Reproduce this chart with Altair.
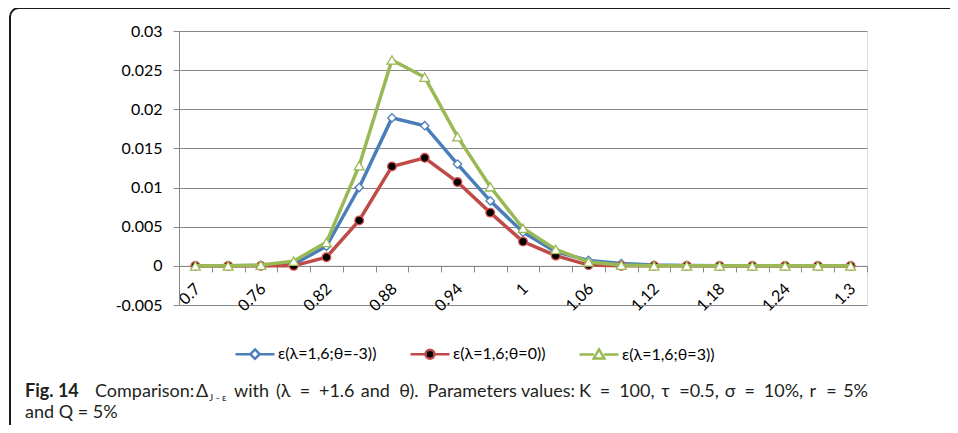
import altair as alt
import pandas as pd

# ---- data ----
x_labels = ["0.7", "0.73", "0.76", "0.79", "0.82", "0.85", "0.88", "0.91", "0.94", "0.97",
            "1", "1.03", "1.06", "1.09", "1.12", "1.15", "1.18", "1.21", "1.24", "1.27", "1.3"]
shown_labels = ["0.7", "0.76", "0.82", "0.88", "0.94", "1", "1.06", "1.12", "1.18", "1.24", "1.3"]

series_names = ["ε(λ=1,6;θ=-3))", "ε(λ=1,6;θ=0))", "ε(λ=1,6;θ=3))"]
vals_m3 = [0, 0, 0.00005, 0.0002, 0.0025, 0.0100, 0.0189, 0.0179, 0.0130, 0.0083, 0.0043,
           0.0018, 0.0007, 0.0003, 0.0001, 0.00005, 0, 0, 0, 0, 0]
vals_0 = [0, 0, 0, 0, 0.0011, 0.0058, 0.0127, 0.0138, 0.0107, 0.0068, 0.0031,
          0.0013, 0.0001, 0, 0, 0, 0, 0, 0, 0, 0]
vals_p3 = [0, 0, 0.0001, 0.0006, 0.0030, 0.0128, 0.0263, 0.0241, 0.0165, 0.0101, 0.0048,
           0.0021, 0.0005, 0.0001, 0, 0, 0, 0, 0, 0, 0]
y_ticks = [-0.005, 0, 0.005, 0.01, 0.015, 0.02, 0.025, 0.03]

caption_words = ["(λ", "=", "+1.6", "and", "θ).", "Parameters values:", "K", "=", "100,",
                 "τ", "=0.5,", "σ", "=", "10%,", "r", "=", "5%"]

# ---- styles ----
line_colors = ["#4A7EBB", "#BE4B48", "#98B954"]
marker_shapes = ["diamond", "circle", "triangle-up"]
marker_fills = ["white", "black", "white"]
marker_strokes = ["#4A7EBB", "#D9534F", "#98B954"]
marker_sizes = [70, 75, 95]
legend_paths = [
    "M-1,0L-0.24,0M0.24,0L1,0M0,-0.24L0.24,0L0,0.24L-0.24,0Z",
    "M-1,0L-0.23,0M0.23,0L1,0M-0.23,0A0.23,0.23,0,1,1,0.23,0A0.23,0.23,0,1,1,-0.23,0Z",
    "M-1,0L-0.26,0M0.26,0L1,0M0,-0.26L0.27,0.2L-0.27,0.2Z",
]

rows = []
for name, vals in zip(series_names, [vals_m3, vals_0, vals_p3]):
    for xl, v in zip(x_labels, vals):
        rows.append({"x": xl, "y": v, "series": name})
df = pd.DataFrame(rows)

FONT = "Lato"
GRID = "#878787"
W, H = 688, 274

x_axis = alt.Axis(
    title=None, orient="bottom", offset=-39.14, tickBand="extent",
    domainColor=GRID, domainWidth=1, tickColor=GRID, tickSize=6, tickWidth=1,
    labelAngle=-45, labelAlign="right", labelBaseline="middle", labelPadding=14,
    labelOffset=2, labelFont=FONT, labelFontSize=16, labelColor="#000000", labelOverlap=False,
    labelExpr="indexof(" + str(shown_labels).replace("'", '"') + ", datum.value) >= 0 ? datum.value : ''",
    grid=False,
)
y_axis = alt.Axis(
    title=None, values=y_ticks, grid=True, gridColor=GRID, gridWidth=1,
    domainColor=GRID, tickColor=GRID, tickSize=6, labelPadding=11,
    labelFont=FONT, labelFontSize=16, labelColor="#000000",
    labelExpr="toString(round(datum.value*1000)/1000)",
)

X = alt.X("x:O", scale=alt.Scale(type="band", domain=x_labels, paddingInner=0, paddingOuter=0),
          bandPosition=0.5, axis=x_axis)
Y = alt.Y("y:Q", scale=alt.Scale(domain=[-0.005, 0.03], nice=False, zero=False), axis=y_axis)

base = alt.Chart(df)
layers = []
for i, name in enumerate(series_names):
    sub = base.transform_filter(alt.datum.series == name)
    layers.append(sub.mark_line(color=line_colors[i], strokeWidth=3.5).encode(x=X, y=Y))
    layers.append(sub.mark_point(shape=marker_shapes[i], filled=True, fill=marker_fills[i],
                                 stroke=marker_strokes[i], strokeWidth=1.3, opacity=1,
                                 size=marker_sizes[i]).encode(x=X, y=Y))

legend = alt.Legend(
    title=None, orient="none", legendX=55, legendY=302, direction="horizontal",
    symbolSize=1521, symbolStrokeWidth=2.5, labelFont=FONT, labelFontSize=16,
    labelColor="#000000", labelOffset=2, columnPadding=28, padding=0,
    symbolOpacity=1, labelLimit=300,
)
legend_layer = base.transform_filter("false").mark_point(opacity=1, strokeWidth=2.5).encode(
    shape=alt.Shape("series:N", scale=alt.Scale(domain=series_names, range=legend_paths), legend=legend),
    stroke=alt.Stroke("series:N", scale=alt.Scale(domain=series_names, range=line_colors), legend=legend),
    fill=alt.Fill("series:N", scale=alt.Scale(domain=series_names, range=marker_fills), legend=legend),
)

one = alt.Data(values=[{}])
CAP_FONT = "Lato"
CAP_SIZE = 18
OX, OY = 179, 31  # plot origin on the page


def cap(text, px, py, size=CAP_SIZE, bold=False, align="left"):
    return alt.Chart(one).mark_text(
        text=text, align=align, baseline="alphabetic", font=CAP_FONT, fontSize=size,
        fontWeight="bold" if bold else "normal", color="#231F20",
    ).encode(x=alt.value(px - OX), y=alt.value(py - OY))


# approximate Lato advance widths (em) to justify the first caption line
EM = {"(": .27, ")": .27, "λ": .47, "=": .50, "+": .50, ".": .21, ",": .21, ":": .22, "%": .72,
      "a": .48, "d": .54, "e": .50, "l": .23, "m": .80, "n": .54, "r": .36, "s": .40, "t": .34,
      "u": .54, "v": .48, "P": .56, "K": .58, "θ": .52, "τ": .42, "σ": .52, " ": .22}


def width(word):
    return sum(EM.get(c, .52) for c in word) * CAP_SIZE


start, end = 276, 868
total = sum(width(w) for w in caption_words)
gap = (end - start - total) / (len(caption_words) - 1)
captions = [
    cap("Fig. 14", 25, 397, bold=True),
    cap("Comparison:", 95, 397),
    cap("Δ", 196, 397),
    cap("J - ε", 209, 401, size=10),
    cap("with", 234, 397),
]
pos = start
for k, w in enumerate(caption_words):
    if k == len(caption_words) - 1:
        captions.append(cap(w, end, 397, align="right"))
    else:
        captions.append(cap(w, pos, 397))
    pos += width(w) + gap
captions.append(cap("and Q = 5%", 25, 418))

border = alt.Chart(one).mark_rect(
    fill=None, stroke="#1A1A1A", strokeWidth=2, cornerRadius=9
).encode(x=alt.value(10 - OX), y=alt.value(8 - OY), x2=alt.value(1000 - OX), y2=alt.value(470 - OY))

chart = alt.layer(border, *layers, legend_layer, *captions).properties(
    width=W, height=H,
    autosize=alt.AutoSizeParams(type="none"),
    padding={"left": OX - 8, "top": OY - 8, "right": 942 - (OX - 8) - W, "bottom": 417 - (OY - 8) - H},
).configure_view(stroke=None).configure(background="white")

chart.save("out.html", embed_options={"renderer": "svg", "actions": False})
